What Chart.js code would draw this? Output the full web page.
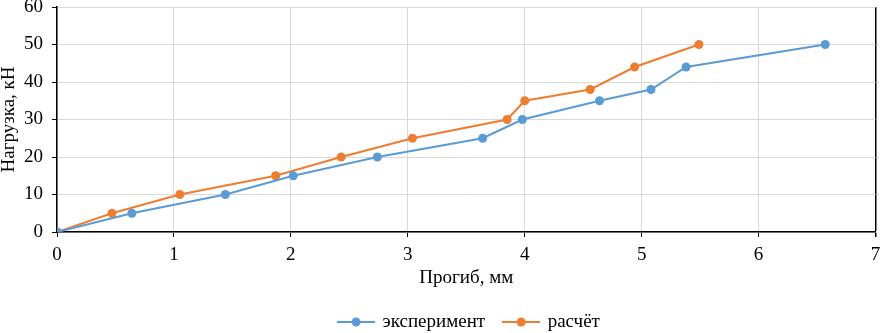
<!DOCTYPE html>
<html><head><meta charset="utf-8">
<script src="https://cdn.jsdelivr.net/npm/chart.js@4/dist/chart.umd.min.js"></script>
<style>html,body{margin:0;padding:0;background:#fff;}#wrap{width:880px;height:333px;}</style>
</head><body><div id="wrap"><canvas id="c" width="880" height="333"></canvas></div>
<script>
const seriesNames = ['эксперимент', 'расчёт'];
const expX = [0, 0.64, 1.44, 2.02, 2.74, 3.64, 3.98, 4.64, 5.08, 5.38, 6.57];
const expY = [0, 5, 10, 15, 20, 25, 30, 35, 38, 44, 50];
const calcX = [0, 0.47, 1.05, 1.87, 2.43, 3.04, 3.85, 4.0, 4.56, 4.94, 5.49];
const calcY = [0, 5, 10, 15, 20, 25, 30, 35, 38, 44, 50];
const xTitle = 'Прогиб, мм';
const yTitle = 'Нагрузка, кН';
const colors = ['#5B9BD5', '#ED7D31'];

function marker(col){
  const cv = document.createElement('canvas');
  cv.width = 38; cv.height = 12;
  const g = cv.getContext('2d');
  g.strokeStyle = col; g.lineWidth = 2;
  g.beginPath(); g.moveTo(0,6); g.lineTo(38,6); g.stroke();
  g.fillStyle = col; g.beginPath(); g.arc(19,6,4.5,0,Math.PI*2); g.fill();
  return cv;
}
const pts = (xs, ys) => xs.map((x,i)=>({x, y: ys[i]}));
const FAM = '"Liberation Serif", "Times New Roman", serif';
const font = {family: FAM, size: 19};
const titleFont = {family: FAM, size: 19, lineHeight: 1};

const legendShift = {
  id: 'legendShift',
  afterLayout(chart){
    const lg = chart.legend;
    if (lg) { lg.top += 8.5; lg.bottom += 8.5; lg.left += 31; lg.right += 31; }
  }
};

new Chart(document.getElementById('c'), {
  type: 'line',
  data: {datasets: [
    {label: seriesNames[0], data: pts(expX, expY), borderColor: colors[0], backgroundColor: colors[0], borderWidth: 2, pointRadius: 4.5, pointBackgroundColor: colors[0], pointBorderWidth: 0, pointStyle: 'circle', tension: 0},
    {label: seriesNames[1], data: pts(calcX, calcY), borderColor: colors[1], backgroundColor: colors[1], borderWidth: 2, pointRadius: 4.5, pointBackgroundColor: colors[1], pointBorderWidth: 0, pointStyle: 'circle', tension: 0}
  ]},
  plugins: [legendShift],
  options: {
    responsive: false, animation: false, devicePixelRatio: 1,
    layout: {padding: {top: 7, right: 3, left: 0, bottom: 0}},
    scales: {
      x: {type: 'linear', min: 0, max: 7,
        ticks: {stepSize: 1, color: '#000', font: font, padding: 7, maxRotation: 0},
        grid: {color: c => c.tick && c.tick.value === 7 ? '#000' : '#d9d9d9', lineWidth: c => c.tick && c.tick.value === 7 ? 1.5 : 1, tickColor: '#000', tickLength: 5},
        border: {color: '#000', width: 1.5},
        title: {display: true, text: xTitle, color: '#000', font: titleFont, padding: {top: 0, bottom: -3}},
        afterFit: s => { s.height = 53; s.paddingRight = 0; s.paddingLeft = 0; }
      },
      y: {min: 0, max: 60,
        ticks: {stepSize: 10, color: '#000', font: font, padding: 9},
        grid: {color: '#d9d9d9', lineWidth: 1, tickColor: '#000', tickLength: 5},
        border: {color: '#000', width: 1.5},
        title: {display: true, text: yTitle, color: '#000', font: titleFont, padding: {top: 0, bottom: 0}},
        afterFit: s => { s.width = 57; s.paddingTop = 0; s.paddingBottom = 0; }
      }
    },
    plugins: {
      tooltip: {enabled: false},
      legend: {position: 'bottom',
        labels: {usePointStyle: true, pointStyleWidth: 34, color: '#000', font: font, padding: 19, boxHeight: 12,
          generateLabels: chart => chart.data.datasets.map((d,i)=>({text: d.label, fillStyle: d.borderColor, strokeStyle: d.borderColor, pointStyle: marker(d.borderColor), datasetIndex: i, lineWidth: 0, fontColor: '#000'}))
        }
      }
    }
  }
});
</script>
</body></html>
